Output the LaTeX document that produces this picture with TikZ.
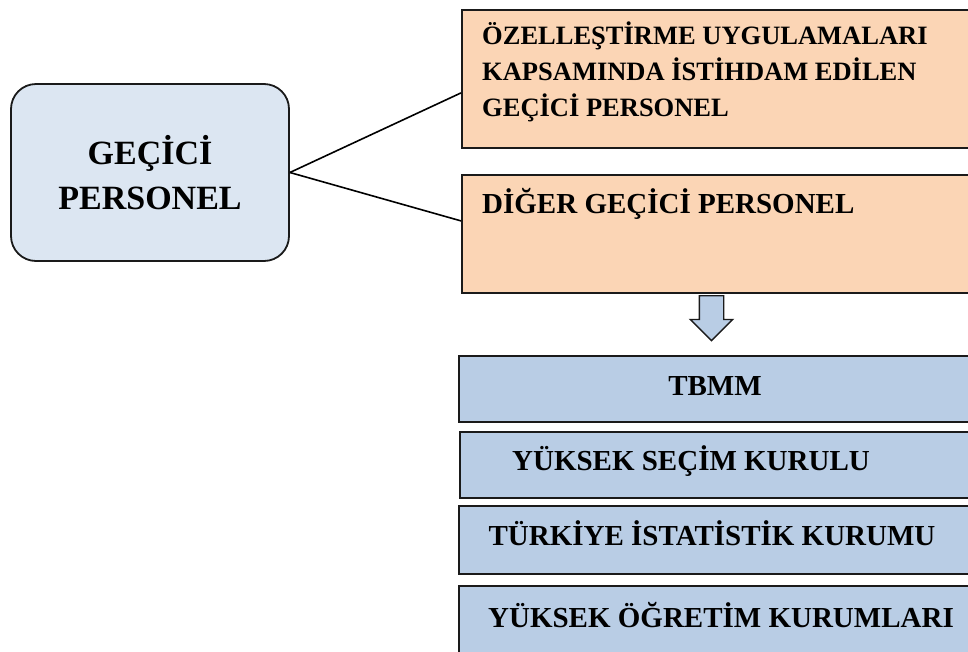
\documentclass[tikz,border=0pt]{standalone}
\usepackage{fontspec}
\setmainfont{Liberation Serif}
\usepackage{xcolor}
\definecolor{turuncuAcik}{HTML}{FBD5B5}
\definecolor{maviOrta}{HTML}{B9CDE5}
\definecolor{maviAcik}{HTML}{DCE6F2}
\definecolor{kenar}{HTML}{1A1A1A}
\usetikzlibrary{shapes.arrows}
\begin{document}
\begin{tikzpicture}[x=1pt,y=-1pt,
 ana/.style={draw=kenar,line width=1.8pt,rounded corners=25pt,fill=maviAcik,
 minimum width=278pt,minimum height=177pt,align=center,font=\fontsize{34}{45}\selectfont\bfseries},
 turuncu/.style={draw=kenar,line width=1.8pt,fill=turuncuAcik,anchor=north west,minimum width=520pt},
 mavi/.style={draw=kenar,line width=1.8pt,fill=maviOrta,anchor=north west,minimum width=522pt},
 yazi/.style={inner sep=0pt,font=\fontsize{29}{36}\selectfont\bfseries},
 cizgi/.style={line width=1.6pt,draw=black},
 ok/.style={single arrow,draw=kenar,line width=1.4pt,fill=maviOrta,shape border rotate=270,
 minimum height=45pt,inner sep=11.5pt,single arrow head extend=9pt}]
 \useasboundingbox (0,0) rectangle (968,651);
 \node[ana] (gecici) at (150,172.5) {GEÇİCİ\\PERSONEL};
 \node[turuncu,minimum height=138pt] (oz) at (461,9) {};
 \node[turuncu,minimum height=118pt] (dg) at (461,174) {};
 \node[yazi,anchor=north west,align=left,font=\fontsize{26.5}{36}\selectfont\bfseries] (ozT) at (482,22)
 {ÖZELLEŞTİRME UYGULAMALARI\\KAPSAMINDA İSTİHDAM EDİLEN\\GEÇİCİ PERSONEL};
 \node[yazi,anchor=base west] (dgT) at (482,213) {DİĞER GEÇİCİ PERSONEL};
 \node[ok,anchor=tail] (asagi) at (711.5,295) {};
 \node[mavi,minimum height=66pt] (tbmm) at (458,355) {};
 \node[mavi,minimum height=66pt] (ysk) at (459,431) {};
 \node[mavi,minimum height=68pt] (tuik) at (458,505) {};
 \node[mavi,minimum height=75pt] (yok) at (458,585) {};
 \node[yazi,anchor=base] (tbmmT) at (715,395) {TBMM};
 \node[yazi,anchor=base] (yskT) at (691,470) {YÜKSEK SEÇİM KURULU};
 \node[yazi,anchor=base] (tuikT) at (712,545) {TÜRKİYE İSTATİSTİK KURUMU};
 \node[yazi,anchor=base] (yokT) at (721,627) {YÜKSEK ÖĞRETİM KURUMLARI};
 \draw[cizgi] (gecici.east)--([yshift=-14pt]oz.west);
 \draw[cizgi] (gecici.east)--([yshift=13pt]dg.west);
\end{tikzpicture}
\end{document}
